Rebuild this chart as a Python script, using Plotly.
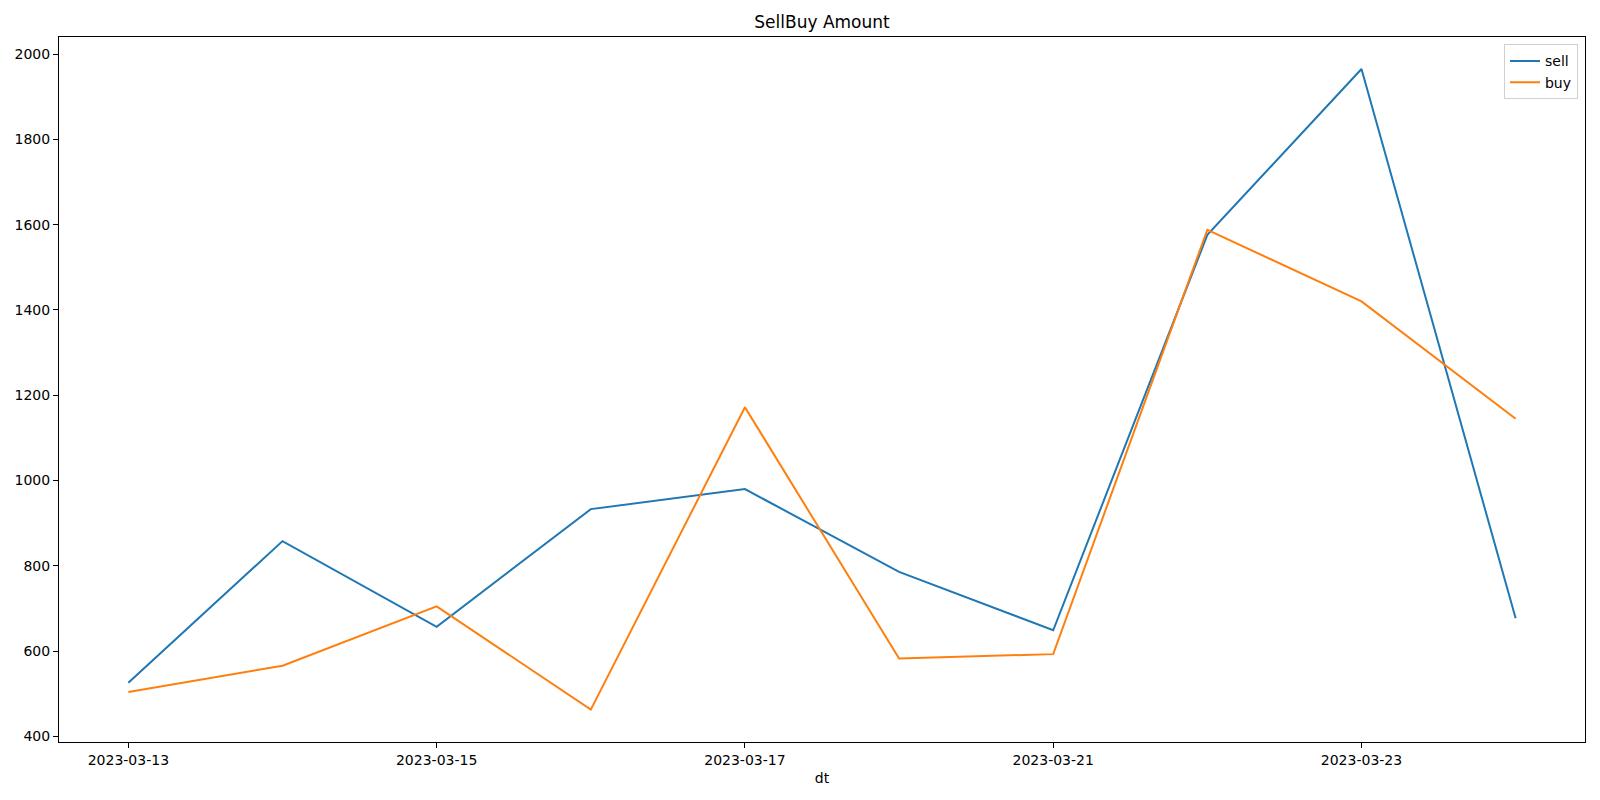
import plotly.graph_objects as go

dates = ["2023-03-13", "2023-03-14", "2023-03-15", "2023-03-16", "2023-03-17",
         "2023-03-20", "2023-03-21", "2023-03-22", "2023-03-23", "2023-03-24"]
sell = [526, 858, 657, 933, 980, 786, 649, 1576, 1965, 677]
buy = [504, 566, 705, 463, 1172, 583, 593, 1588, 1420, 1145]
x_ticks = ["2023-03-13", "2023-03-15", "2023-03-17", "2023-03-21", "2023-03-23"]
y_ticks = [400, 600, 800, 1000, 1200, 1400, 1600, 1800, 2000]

FONT = "DejaVu Sans"

fig = go.Figure()
fig.add_trace(go.Scatter(x=dates, y=sell, mode="lines", name="sell",
                         line=dict(color="#1f77b4", width=2)))
fig.add_trace(go.Scatter(x=dates, y=buy, mode="lines", name="buy",
                         line=dict(color="#ff7f0e", width=2)))

fig.update_layout(
    width=1592, height=792,
    paper_bgcolor="white", plot_bgcolor="white",
    margin=dict(l=51, r=15, t=29, b=58),
    font=dict(family=FONT, size=14, color="black"),
    title=dict(text="SellBuy Amount", x=0.5, xref="paper", xanchor="center",
               y=1 - 14 / 792, yanchor="middle",
               font=dict(family=FONT, size=17, color="black")),
    showlegend=True,
    legend=dict(x=0.9954, xanchor="right", y=0.9895, yanchor="top",
                bgcolor="rgba(255,255,255,0.8)", bordercolor="#d0d0d0",
                borderwidth=1, font=dict(family=FONT, size=14, color="black"),
                tracegroupgap=0, itemwidth=30),
)
fig.update_xaxes(
    type="category", categoryorder="array", categoryarray=dates,
    range=[-0.45, 9.45], tickmode="array", tickvals=x_ticks, ticktext=x_ticks,
    showgrid=False, zeroline=False, showline=True, linecolor="black",
    linewidth=1, mirror=True, ticks="outside", ticklen=5, tickwidth=1,
    tickcolor="black", automargin=False,
    title=dict(text="dt", standoff=6, font=dict(family=FONT, size=14, color="black")),
)
fig.update_yaxes(
    range=[387, 2040], tickmode="array", tickvals=y_ticks,
    showgrid=False, zeroline=False, showline=True, linecolor="black",
    linewidth=1, mirror=True, ticks="outside", ticklen=5, tickwidth=1,
    tickcolor="black", automargin=False,
)

fig.write_html("out.html")
